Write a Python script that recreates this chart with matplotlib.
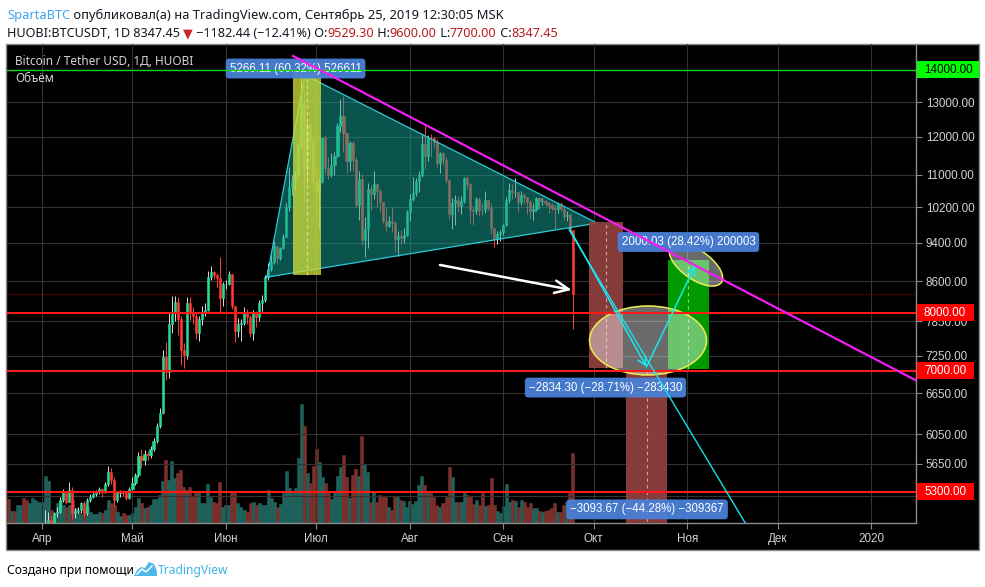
import numpy as np
import matplotlib
matplotlib.use("Agg")
import matplotlib.pyplot as plt
from matplotlib.patches import Rectangle, Ellipse, Polygon
from matplotlib.ticker import FixedLocator, FuncFormatter, NullLocator
from matplotlib.transforms import IdentityTransform

W, H, DPI = 985, 587, 100

# ---------------------------------------------------------------- data
# day numbers are counted from 2019-04-01; the first candle is 2019-03-21
FIRST_DAY = -11
FIRST_OPEN = 4030
CLOSE = [
    3990, 4010, 4000, 4010, 4020, 3950, 3930, 4020, 4040, 4100,
    4105, 4145, 4890, 4960, 4910, 5040, 5060, 5200, 5290, 5180,
    5320, 5040, 5070, 5080, 5160, 5040, 5200, 5240, 5270, 5290,
    5330, 5290, 5390, 5540, 5440, 5200, 5280, 5290, 5280, 5220,
    5330, 5400, 5500, 5750, 5700, 5780, 5760, 5840, 5950, 6160,
    6350, 7220, 6980, 7800, 7990, 8200, 7880, 7350, 7260, 8190,
    7990, 7950, 7630, 7880, 7990, 8060, 8690, 8800, 8720, 8660,
    8270, 8550, 8560, 8740, 8120, 7680, 7790, 7810, 8000, 7930,
    7640, 8020, 7930, 8180, 8240, 8690, 8860, 8990, 9330, 9080,
    9280, 9530, 10210, 10690, 10860, 11020, 11770, 12940, 11150, 12370,
    11890, 10810, 10580, 10810, 11980, 11160, 10990, 11250, 11480, 12310,
    12580, 12100, 11360, 11820, 11390, 10250, 10880, 9460, 9700, 10650,
    10530, 10770, 10600, 10330, 9890, 9780, 9890, 9830, 9480, 9550,
    9500, 9580, 10090, 10400, 10540, 10830, 10980, 11800, 11480, 11980,
    11960, 11850, 11290, 11550, 11390, 10870, 10050, 10310, 10370, 10230,
    10350, 10920, 10760, 10140, 10120, 10410, 10150, 10140, 10370, 10190,
    9720, 9490, 9600, 9630, 9800, 10380, 10620, 10580, 10580, 10320,
    10500, 10440, 10340, 10110, 10160, 10420, 10360, 10360, 10310, 10260,
    10190, 10160, 10280, 10170, 9990, 10030, 9690, 8347.45,
]
HIGH = [
    4060, 4040, 4030, 4030, 4050, 4030, 3960, 4040, 4060, 4110,
    4130, 4170, 5080, 5060, 5010, 5060, 5110, 5230, 5330, 5300,
    5420, 5350, 5100, 5120, 5180, 5190, 5220, 5270, 5300, 5320,
    5360, 5340, 5420, 5620, 5590, 5480, 5300, 5320, 5320, 5300,
    5360, 5480, 5530, 5800, 5850, 5830, 5820, 5880, 6000, 6200,
    6420, 7350, 7480, 8000, 8320, 8320, 8290, 7950, 7460, 8290,
    8300, 8100, 8020, 7950, 8130, 8180, 8820, 8920, 8820, 8760,
    9100, 8590, 8620, 8820, 8740, 8130, 7900, 7880, 8100, 8080,
    7970, 8050, 8040, 8250, 8340, 8730, 8980, 9230, 9450, 9340,
    9320, 9600, 10300, 11200, 11000, 11100, 11820, 13900, 13300, 12420,
    12300, 12000, 11200, 10920, 12010, 12040, 11450, 11550, 11600, 12390,
    13100, 13200, 12100, 11900, 11900, 11450, 11100, 11020, 9980, 10780,
    10750, 11100, 10800, 10650, 10330, 10200, 10000, 10200, 9890, 9650,
    9680, 9720, 10150, 10520, 10950, 10910, 11090, 12080, 12300, 12050,
    12070, 12000, 11930, 11600, 11590, 11450, 10900, 10430, 10500, 10480,
    10470, 10950, 10960, 10780, 10240, 10440, 10450, 10300, 10600, 10400,
    10300, 9730, 9650, 9680, 9820, 10460, 10800, 10770, 10910, 10570,
    10600, 10550, 10460, 10380, 10300, 10450, 10450, 10420, 10380, 10330,
    10300, 10270, 10320, 10330, 10200, 10120, 10080, 9600,
]
LOW = [
    3960, 3970, 3980, 3980, 3990, 3920, 3900, 3920, 4000, 4030,
    4080, 4090, 4140, 4800, 4820, 4900, 5000, 5050, 5180, 5150,
    5170, 4980, 4990, 5040, 5040, 5010, 5020, 5180, 5220, 5250,
    5270, 5240, 5280, 5370, 5390, 5130, 5180, 5230, 5250, 5200,
    5210, 5320, 5380, 5480, 5600, 5640, 5700, 5730, 5820, 5930,
    6130, 6330, 6850, 6880, 7640, 7860, 7600, 7100, 7050, 7200,
    7870, 7800, 7530, 7500, 7780, 7950, 8030, 8630, 8650, 8500,
    8020, 8130, 8460, 8540, 8080, 7480, 7560, 7500, 7780, 7790,
    7560, 7520, 7740, 7860, 8040, 8210, 8630, 8820, 8960, 8950,
    9030, 9270, 9520, 10120, 10500, 10620, 11000, 11700, 10300, 10800,
    11350, 10700, 9950, 9700, 10780, 11050, 10900, 10950, 11000, 11450,
    12150, 11600, 11050, 11100, 11100, 10200, 9900, 9360, 9100, 9300,
    10150, 10400, 10200, 10100, 9830, 9650, 9760, 9640, 9210, 9130,
    9380, 9390, 9550, 9890, 10360, 10480, 10560, 10950, 11150, 11350,
    11460, 11730, 11200, 11050, 11250, 10800, 9940, 9700, 9800, 10100,
    10050, 10300, 10650, 9850, 9800, 10050, 10000, 10020, 10080, 10150,
    9600, 9320, 9370, 9440, 9580, 9780, 10300, 10410, 10450, 10100,
    10260, 10290, 10040, 9960, 9900, 10110, 10160, 10250, 10240, 10080,
    10140, 9700, 10070, 10110, 9900, 9880, 9620, 7700,
]
VOLUME = [
    24, 12, 12, 18, 18, 25, 23, 20, 25, 23,
    21, 21, 47, 42, 13, 10, 20, 23, 18, 16,
    18, 23, 15, 11, 9, 13, 16, 11, 9, 9,
    11, 10, 13, 23, 20, 18, 11, 7, 10, 8,
    8, 10, 16, 25, 20, 15, 16, 18, 24, 24,
    28, 42, 63, 43, 62, 45, 50, 53, 36, 33,
    36, 26, 31, 30, 20, 20, 39, 26, 21, 20,
    41, 16, 18, 18, 31, 30, 20, 16, 13, 11,
    20, 21, 18, 20, 18, 18, 33, 25, 21, 16,
    19, 30, 52, 35, 30, 35, 65, 119, 97, 50,
    40, 57, 74, 61, 46, 40, 32, 24, 32, 47,
    56, 68, 46, 25, 48, 54, 47, 87, 59, 51,
    21, 31, 21, 28, 26, 26, 16, 13, 26, 26,
    23, 22, 16, 22, 19, 22, 38, 47, 38, 30,
    30, 26, 18, 16, 20, 26, 56, 46, 21, 21,
    21, 30, 28, 26, 19, 23, 18, 30, 17, 18,
    45, 18, 12, 10, 17, 39, 21, 23, 22, 16,
    23, 21, 16, 20, 15, 15, 12, 11, 12, 13,
    15, 20, 11, 11, 18, 21, 30, 70,
]

MONTH_DAYS = [0, 30, 61, 91, 122, 153, 183, 214, 244, 275]
MONTH_LABELS = ["Апр", "Май", "Июн", "Июл", "Авг", "Сен", "Окт", "Ноя", "Дек", "2020"]
PRICE_TICKS = [5250, 5650, 6050, 6650, 7250, 7850, 8600, 9400, 10200,
               11000, 12000, 13000, 14000]

LEVEL_GREEN = 14000
LEVELS_RED = [8000, 7000, 5300]
LAST_PRICE = 8347.45

TRIANGLE_DAYS = [74.6, 87.2, 184.1]
TRIANGLE_PRICES = [8686, 13840, 9837]
RESIST_DAYS = [83.3, 292]
RESIST_PRICES = [14459, 6795]
BREAK_DAYS = [174.9, 240]
BREAK_PRICES = [9680, 4560]
PATH_DAYS = [174.9, 200.5, 216.6]
PATH_PRICES = [9720, 7064, 8920]
WHITE_ARROW_DAYS = [132.0, 175.7]
WHITE_ARROW_PRICES = [8934, 8434]

# measured price ranges: start/end day, base price, change
RANGE_DAYS = [(83.3, 92.4), (181.5, 192.6), (193.7, 207.4), (207.5, 221.3)]
RANGE_BASE = [8730.3, 9872.0, 6986.6, 7037.4]
RANGE_DELTA = [5266.11, -2834.30, -3093.67, 2000.03]
RANGE_LABELS = ["5266.11 (60.32%) 526611", "\u22122834.30 (\u221228.71%) \u2212283430",
                "\u22123093.67 (\u221244.28%) \u2212309367", "2000.03 (28.42%) 200003"]
LABEL_DAYS = [84.1, 186.9, 200.7, 214.4]
LABEL_PRICES = [14048, 6735, 5087, 9419]

ELLIPSE_DAYS = [201.0, 216.9]
ELLIPSE_PRICES = [7507, 8939]

# ---------------------------------------------------------------- layout
PLOT = (7, 44, 916, 523)           # pixel box of the price pane
APR1_PX, PX_PER_DAY = 42, 3.015    # x calibration
P_REF, Y_REF, PX_PER_LOG = 14000, 70, 434


def day_at(x):
    return (x - APR1_PX) / PX_PER_DAY


def price_at(y):
    return P_REF * np.exp(-(y - Y_REF) / PX_PER_LOG)


XMIN, XMAX = day_at(PLOT[0]), day_at(PLOT[2])
PMAX, PMIN = price_at(PLOT[1]), price_at(PLOT[3])

NARROW = ["Liberation Sans", "DejaVu Sans"]
SANS = ["Noto Sans", "DejaVu Sans"]
AXIS_TXT = "#d2d2d2"
GRID = "#333333"


def frac(x0, y0, x1, y1):
    return [x0 / W, 1 - y1 / H, (x1 - x0) / W, (y1 - y0) / H]


fig = plt.figure(figsize=(W / DPI, H / DPI), dpi=DPI, facecolor="white")

bg = fig.add_axes([0, 0, 1, 1])
bg.set_xlim(0, W)
bg.set_ylim(H, 0)
bg.axis("off")
bg.add_patch(Rectangle((6, 44), 973, 506, fc="black", ec="#8c8c8c", lw=1.0))

days = np.arange(FIRST_DAY, FIRST_DAY + len(CLOSE))
close = np.array(CLOSE, float)
high = np.array(HIGH, float)
low = np.array(LOW, float)
opens = np.r_[FIRST_OPEN, close[:-1]]
up = close >= opens

# volume pane underneath
vcol = np.where(up, "#1f625c", "#7c302c")
vax = fig.add_axes(frac(*PLOT))
vax.axis("off")
vax.bar(days, VOLUME, width=1.0, color=vcol, edgecolor=vcol, lw=0.4)
vax.set_xlim(XMIN, XMAX)
vax.set_ylim(0, max(VOLUME) * 4.02)

ax = fig.add_axes(frac(*PLOT))
ax.set_facecolor("none")
ax.set_yscale("log")
ax.set_xlim(XMIN, XMAX)
ax.set_ylim(PMIN, PMAX)

# candles
ax.vlines(days[up], low[up], high[up], color="#dcdcdc", lw=0.7, zorder=2)
ax.vlines(days[~up], low[~up], high[~up], color="#ff4040", lw=0.7, zorder=2)
ax.bar(days, np.abs(close - opens), bottom=np.minimum(opens, close), width=0.7,
       color=np.where(up, "#22e27a", "#ff3b30"),
       edgecolor=np.where(up, "#33d2b4", "#ff3b30"), lw=0.4, zorder=3)

# triangle
ax.fill(TRIANGLE_DAYS, TRIANGLE_PRICES, fc="#15a093", alpha=0.52, ec="none", zorder=4)
ax.plot(TRIANGLE_DAYS + TRIANGLE_DAYS[:1], TRIANGLE_PRICES + TRIANGLE_PRICES[:1],
        color="#2ec8d8", lw=0.9, zorder=4.2)

# price ranges
range_style = [("#cddc39", 0.78), ("#8e3f3f", 0.95), ("#8e3f3f", 0.95), ("#00a300", 0.95)]
for (d0, d1), base, delta, (fc, al) in zip(RANGE_DAYS, RANGE_BASE, RANGE_DELTA, range_style):
    lo, hi = sorted([base, base + delta])
    ax.add_patch(Rectangle((d0, lo), d1 - d0, hi - lo, fc=fc, alpha=al, lw=0, zorder=4.5))
    mid = (d0 + d1) / 2
    ax.plot([mid, mid], [lo, hi], ls=(0, (3, 3)), color="white", alpha=0.55, lw=0.8,
            zorder=4.6)

for d, p, s in zip(LABEL_DAYS, LABEL_PRICES, RANGE_LABELS):
    ax.text(d, p, s, ha="center", va="center", color="white", fontsize=8.3,
            family=NARROW, zorder=5.5,
            bbox=dict(boxstyle="round,pad=0.34,rounding_size=0.3", fc="#4a80d8",
                      ec="none", alpha=0.95))

# ellipses (sized in screen pixels)
for d, p, (w, h, ang) in zip(ELLIPSE_DAYS, ELLIPSE_PRICES, [(117, 69, 0), (62, 29, -35)]):
    cx, cy = ax.transData.transform((d, p))
    ax.add_patch(Ellipse((cx, cy), w, h, angle=ang, transform=IdentityTransform(),
                         fc=(1, 1, 1, 0.42), ec="#ecec50", lw=1.1, zorder=5))

# levels and trend lines
ax.axhline(LAST_PRICE, color="#a00000", lw=0.8, ls=(0, (1, 1.5)), zorder=1.5)
ax.axhline(LEVEL_GREEN, color="#12d012", lw=1.0, zorder=6)
for p in LEVELS_RED:
    ax.axhline(p, color="#ff1a1a", lw=1.5, zorder=6)
ax.plot(RESIST_DAYS, RESIST_PRICES, color="#f01ef0", lw=1.6, zorder=6)
ax.plot(BREAK_DAYS, BREAK_PRICES, color="#18e0ea", lw=1.0, zorder=6)
for i in range(len(PATH_DAYS) - 1):
    ax.annotate("", xy=(PATH_DAYS[i + 1], PATH_PRICES[i + 1]),
                xytext=(PATH_DAYS[i], PATH_PRICES[i]),
                arrowprops=dict(arrowstyle="->,head_length=0.6,head_width=0.3",
                                color="#18e8f0", lw=1.1, shrinkA=0, shrinkB=0),
                zorder=7)
ax.annotate("", xy=(WHITE_ARROW_DAYS[1], WHITE_ARROW_PRICES[1]),
            xytext=(WHITE_ARROW_DAYS[0], WHITE_ARROW_PRICES[0]),
            arrowprops=dict(arrowstyle="->,head_length=1.0,head_width=0.45",
                            color="white", lw=1.8, shrinkA=0, shrinkB=0),
            zorder=7)

# axes styling
ax.yaxis.set_major_locator(FixedLocator(PRICE_TICKS))
ax.yaxis.set_minor_locator(NullLocator())
ax.yaxis.set_major_formatter(FuncFormatter(lambda v, _: f"{v:.2f}"))
ax.yaxis.tick_right()
ax.set_xticks(MONTH_DAYS, MONTH_LABELS)
ax.tick_params(axis="both", colors="#8a8a8a", labelcolor=AXIS_TXT, length=4,
               width=0.8, direction="out")
ax.tick_params(axis="y", pad=3)
ax.tick_params(axis="x", pad=3)
for lab in ax.get_xticklabels() + ax.get_yticklabels():
    lab.set_family(NARROW)
    lab.set_fontsize(8.4)
ax.grid(True, color=GRID, lw=0.8)
ax.set_axisbelow(True)
for side in ("top", "left"):
    ax.spines[side].set_visible(False)
for side in ("right", "bottom"):
    ax.spines[side].set_color("#8a8a8a")
    ax.spines[side].set_linewidth(1.0)

# ---------------------------------------------------------------- overlay texts
ov = fig.add_axes([0, 0, 1, 1])
ov.set_xlim(0, W)
ov.set_ylim(H, 0)
ov.axis("off")


def y_px(p):
    return H - ax.transData.transform((0, p))[1]


for p, fc, tc, w in [(LEVEL_GREEN, "#00ff00", "black", 62)] + \
        [(p, "#ff0000", "white", 57) for p in LEVELS_RED]:
    y = y_px(p)
    ov.add_patch(Rectangle((916.5, y - 8.5), w, 17, fc=fc, ec="none"))
    ov.text(924, y + 0.5, f"{p:.2f}", color=tc, va="center", ha="left",
            fontsize=8.4, family=NARROW)

ov.text(15, 61, "Bitcoin / Tether USD, 1Д, HUOBI", color="#d6d6d6", fontsize=8.5,
        family=SANS, va="center")
ov.text(15, 78, "Объём", color="#d6d6d6", fontsize=8.5, family=SANS, va="center")


def write_run(x, y, parts, size):
    prev = None
    for text, color, weight in parts:
        if prev is None:
            prev = ov.text(x, y, text, color=color, fontweight=weight, fontsize=size,
                           family=SANS, va="bottom", ha="left")
        else:
            prev = ov.annotate(text, xy=(1, 0), xycoords=prev, color=color,
                               fontweight=weight, fontsize=size, family=SANS,
                               va="bottom", ha="left")


DARK = "#131722"
VAL = "#b71c1c"
write_run(7, 22, [("SpartaBTC", "#3ba5ee", "normal"),
                  (" опубликовал(а) на TradingView.com, Сентябрь 25, 2019 12:30:05 MSK",
                   DARK, "normal")], 9.3)
write_run(7, 40, [("HUOBI:BTCUSDT, 1D", DARK, "bold"),
                  (" 8347.45 ", DARK, "normal"),
                  ("\u25bc", "#c62828", "normal"),
                  (" \u22121182.44 (\u221212.41%)", DARK, "normal"),
                  (" O:", DARK, "bold"), ("9529.30", VAL, "normal"),
                  (" H:", DARK, "bold"), ("9600.00", VAL, "normal"),
                  (" L:", DARK, "bold"), ("7700.00", VAL, "normal"),
                  (" C:", DARK, "bold"), ("8347.45", VAL, "normal")], 9.1)

ov.text(7, 577, "Создано при помощи", color="black", fontsize=8.7, family=SANS,
        va="bottom")
ov.add_patch(Polygon([(134, 576), (137, 570), (141, 567), (145, 568), (149, 562),
                      (154, 564), (157, 571), (157, 576)], closed=True, fc="#4fb8e8",
                     ec="none"))
ov.plot([137, 142, 146, 152], [574, 569, 572, 566], color="white", lw=1.1)
ov.text(158, 577, "TradingView", color="#3cb4e6", fontsize=8.7, family=SANS, va="bottom")

fig.savefig("out.png", dpi=DPI, facecolor="white")
